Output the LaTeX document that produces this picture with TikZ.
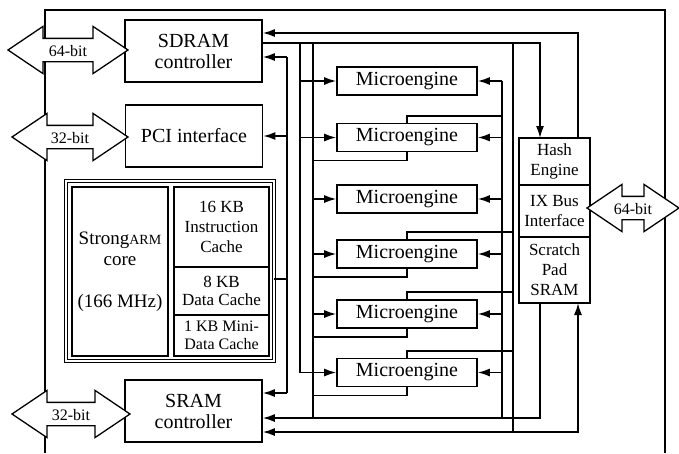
\documentclass[tikz,border=0pt]{standalone}
\usepackage{fontspec}
\setmainfont{Liberation Serif}
\usetikzlibrary{arrows.meta,positioning,shapes.arrows}

\begin{document}
\begin{tikzpicture}[
  x=1pt, y=-1pt,
  font=\fontsize{20}{21}\selectfont,
  every node/.style={align=center},
  box/.style={draw, line width=1.6pt, minimum width=137pt, minimum height=62pt, inner sep=0pt},
  me/.style={draw, line width=1.6pt, minimum width=140pt, minimum height=28pt, inner sep=0pt},
  cell/.style={draw, line width=1.6pt, inner sep=0pt, outer sep=0pt, font=\fontsize{17}{20}\selectfont},
  armbox/.style={draw, double, line width=0.9pt, double distance=1.8pt, minimum width=208pt, minimum height=180pt},
  bit/.style={draw, line width=1.3pt, fill=white, double arrow, double arrow head extend=12pt,
              double arrow tip angle=68, inner xsep=0pt, inner ysep=5pt, text height=12pt, text depth=0pt,
              font=\fontsize{16}{16}\selectfont},
  bus/.style={line width=1.6pt},
  arr/.style={bus, -{Latex[length=12pt,width=8pt]}},
  darr/.style={bus, {Latex[length=12pt,width=8pt]}-{Latex[length=12pt,width=8pt]}},
  frame/.style={line width=1.3pt}
]
\useasboundingbox (0,0) rectangle (679,453);

% chip outline
\draw[frame] (45,453) |- (665,10) -- (665,453);

% controllers
\node[box] (sdram) at (193.5,51) {SDRAM\\controller};
\node[box] (pci) at (194,136) {PCI interface};
\node[box] (sram) at (193.5,411) {SRAM\\controller};

% StrongARM core with caches
\node[armbox] (arm) at (170,271) {};
\node[cell, minimum width=96pt, minimum height=169pt, font=\fontsize{19}{21}\selectfont] (core) at (120,271.5)
  {Strong{\fontsize{14}{14}\selectfont ARM}\\core\\[21pt](166 MHz)};
\node[cell, minimum width=95pt, minimum height=80pt] (icache) at (221.5,227) {16 KB\\Instruction\\Cache};
\node[cell, minimum width=95pt, minimum height=48pt, below=0pt of icache, font=\fontsize{17}{18}\selectfont] (dcache) {8 KB\\Data Cache};
\node[cell, minimum width=95pt, minimum height=41pt, below=0pt of dcache, font=\fontsize{16}{18}\selectfont] (mcache) {1 KB Mini-\\Data Cache};

% microengines
\foreach \i/\y in {1/81,2/137.5,3/199,4/254,5/314,6/372.5}
  \node[me] (me\i) at (407,\y) {Microengine};

% hash / IX bus / scratch pad
\node[cell, minimum width=71pt, minimum height=47pt] (hash) at (554.5,161.5) {Hash\\Engine};
\node[cell, minimum width=71pt, minimum height=52pt, below=0pt of hash] (ixbus) {IX Bus\\Interface};
\node[cell, minimum width=71pt, minimum height=66pt, below=0pt of ixbus] (scratch) {Scratch\\Pad\\SRAM};

% external buses
\node[bit, minimum height=120pt] (sdext) at (68,50) {64-bit};
\node[bit, minimum height=116pt] (pciext) at (70,137) {32-bit};
\node[bit, minimum height=118pt] (srext) at (71,414) {32-bit};
\node[bit, minimum height=92pt] (ixext) at (633,208) {64-bit};

% ports
\coordinate (sdIn) at ([yshift=-6pt]sdram.east);
\coordinate (topBus) at ([yshift=8pt]sdram.east);
\coordinate (srIn) at ([yshift=18pt]sram.east);
\coordinate (spIn) at ([yshift=-7pt]sram.east);
\coordinate (spOut) at ([yshift=-21pt]sram.east);
\coordinate (armOut) at ([yshift=-8pt]arm.east);
\coordinate (busE) at (287,0);
\coordinate (busA) at (300,0);
\coordinate (busB) at (313,0);
\coordinate (busC) at (502,0);
\coordinate (busD) at (513,0);

% SDRAM <-> hash engine
\draw[arr] ([xshift=-12pt]hash.north east) |- ([yshift=18pt]sdram.east);
\draw[arr] (topBus) -| ([xshift=21pt]hash.north west);

% core bus
\draw[bus] (sdIn -| busE) -- (srIn -| busE);
\draw[arr] (sdIn -| busE) -- (sdIn);
\draw[arr] (pci.east -| busE) -- (pci.east);
\draw[arr] (srIn -| busE) -- (srIn);
\draw[bus] (armOut) -- (armOut -| busE);

% microengine buses
\draw[arr] (topBus -| busA) |- (me6.west);
\draw[bus] (topBus -| busB) -- (spIn -| busB);
\draw[bus] (me1.east -| busC) -- (spIn -| busC);
\draw[bus] (topBus -| busD) -- (spOut -| busD);
\foreach \i in {1,2} \draw[arr] (me\i.west -| busA) -- (me\i.west);
\foreach \i in {3,4,5} \draw[arr] (me\i.west -| busB) -- (me\i.west);
\foreach \i in {1,...,6} \draw[arr] (me\i.east -| busC) -- (me\i.east);

% lines passing the microengines
\draw[bus] (me2.north) -- ++(0,7pt) coordinate (t2) -- (t2 -| busC);
\foreach \i in {4,5,6}
  \draw[bus] (me\i.north) -- ++(0,7pt) coordinate (t\i) -- (t\i -| busD);
\foreach \i in {2,4,5,6}
  \draw[bus] (me\i.south) -- ++(0,-8pt) coordinate (b\i) -- (b\i -| busB);

% scratch pad <-> SRAM
\draw[arr] ([xshift=21pt]scratch.south west) |- (spIn);
\draw[darr] (spOut) -| ([xshift=-12pt]scratch.south east);
\end{tikzpicture}
\end{document}
